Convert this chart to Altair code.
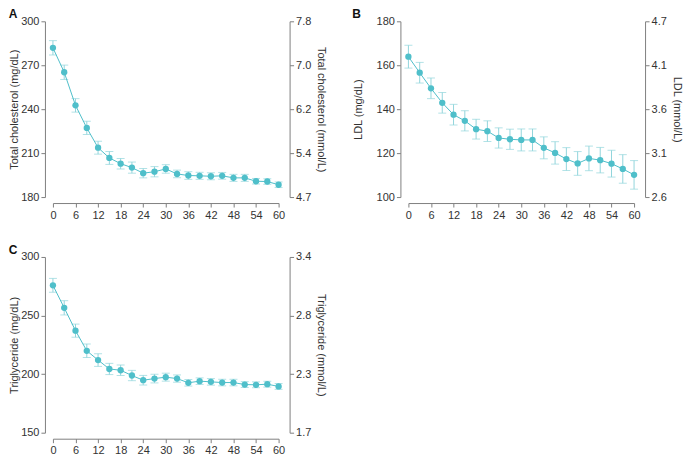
import altair as alt
import pandas as pd

months = [0, 3, 6, 9, 12, 15, 18, 21, 24, 27, 30, 33, 36, 39, 42, 45, 48, 51, 54, 57, 60]
x_ticks = [0, 6, 12, 18, 24, 30, 36, 42, 48, 54, 60]

tc_mean = [281.9, 265.2, 242.6, 227.2, 213.7, 206.7, 202.8, 200.1, 196.3, 197.3, 199.2,
           195.8, 194.7, 194.5, 194.2, 194.5, 193.1, 193.1, 190.8, 190.6, 188.4]
tc_err = [4.9, 4.9, 4.6, 4.5, 4.4, 4.4, 3.6, 3.8, 3.2, 3.5, 2.9,
          2.6, 2.6, 2.4, 2.4, 2.3, 2.4, 2.4, 1.9, 1.9, 1.9]
tc_left_ticks = [180, 210, 240, 270, 300]
tc_right_labels = ["4.7", "5.4", "6.2", "7.0", "7.8"]

ldl_mean = [163.9, 156.6, 149.5, 142.9, 137.5, 134.7, 130.9, 130.0, 126.9, 126.3, 126.0,
            126.0, 122.4, 120.1, 117.3, 115.3, 117.6, 116.8, 115.2, 112.8, 110.1]
ldl_err = [5.2, 4.7, 4.7, 4.7, 4.7, 4.6, 4.5, 4.7, 4.6, 4.6, 5.0,
           5.0, 5.0, 5.1, 5.2, 5.4, 5.6, 5.8, 6.1, 6.5, 6.5]
ldl_left_ticks = [100, 120, 140, 160, 180]
ldl_right_labels = ["2.6", "3.1", "3.6", "4.1", "4.7"]

tg_mean = [275.8, 256.6, 237.1, 219.9, 212.0, 204.4, 203.3, 198.8, 194.8, 196.2, 197.4,
           196.2, 192.6, 194.0, 193.4, 192.8, 192.8, 191.1, 190.9, 191.4, 189.5]
tg_err = [5.9, 6.1, 5.6, 5.8, 5.4, 4.8, 4.4, 4.4, 4.1, 3.7, 3.4,
          3.1, 2.8, 2.8, 2.8, 2.8, 2.8, 2.5, 2.5, 2.5, 2.5]
tg_left_ticks = [150, 200, 250, 300]
tg_right_labels = ["1.7", "2.3", "2.8", "3.4"]

FONT = "Liberation Sans"
MAIN = "#4fbfca"
ERR = "#92d5dc"
AXIS_C = "#808080"
W, H = 226, 176


def panel(letter, mean, err, ticks, rlabels, ltitle, rtitle, ltp=1):
    df = pd.DataFrame({
        "month": months,
        "value": mean,
        "lo": [m - e for m, e in zip(mean, err)],
        "hi": [m + e for m, e in zip(mean, err)],
    })
    dom = [ticks[0], ticks[-1]]
    yscale = alt.Scale(domain=dom, nice=False, zero=False)
    laxis = alt.Axis(values=ticks, title=ltitle, offset=8, grid=False, orient="left",
                     titlePadding=ltp)
    expr = " : ".join(f"datum.value == {v} ? '{l}'" for v, l in zip(ticks, rlabels)) + " : ''"
    raxis = alt.Axis(values=ticks, title=rtitle, offset=11, grid=False, orient="right",
                     labelExpr=expr, titlePadding=5)
    xenc = alt.X("month:Q", scale=alt.Scale(domain=[0, 60], nice=False),
                 axis=alt.Axis(values=x_ticks, offset=6, title=None, grid=False,
                               labelFlush=False))
    base = alt.Chart(df).encode(x=xenc)
    rule = base.mark_rule(color=ERR, strokeWidth=1).encode(
        y=alt.Y("lo:Q", scale=yscale, axis=laxis), y2="hi:Q")
    cap_lo = base.mark_tick(color=ERR, orient="horizontal", size=8, thickness=1).encode(
        y=alt.Y("lo:Q", scale=yscale, axis=laxis))
    cap_hi = base.mark_tick(color=ERR, orient="horizontal", size=8, thickness=1).encode(
        y=alt.Y("hi:Q", scale=yscale, axis=laxis))
    line = base.mark_line(color=MAIN, strokeWidth=1).encode(
        y=alt.Y("value:Q", scale=yscale, axis=laxis))
    pts = base.mark_point(filled=True, color=MAIN, size=40, opacity=1).encode(
        y=alt.Y("value:Q", scale=yscale, axis=laxis))
    left = alt.layer(rule, cap_lo, cap_hi, line, pts)
    right = base.mark_point(opacity=0).encode(
        y=alt.Y("value:Q", scale=yscale, axis=raxis))
    return alt.layer(left, right).resolve_scale(y="independent").properties(
        width=W, height=H,
        title=alt.TitleParams(letter, anchor="start", frame="bounds", fontSize=12,
                              fontWeight="bold", font=FONT, color="#111", offset=-6))


A = panel("A", tc_mean, tc_err, tc_left_ticks, tc_right_labels,
          "Total cholesterol (mg/dL)", "Total cholesterol (mmol/L)")
B = panel("B", ldl_mean, ldl_err, ldl_left_ticks, ldl_right_labels,
          "LDL (mg/dL)", "LDL (mmol/L)", ltp=13)
C = panel("C", tg_mean, tg_err, tg_left_ticks, tg_right_labels,
          "Triglyceride (mg/dL)", "Triglyceride (mmol/L)")

chart = alt.vconcat(alt.hconcat(A, B, spacing=24), C, spacing=24).properties(
    padding={"left": 0, "top": 0, "right": 0, "bottom": 0}
).configure_view(stroke=None).configure_axis(
    labelFont=FONT, labelFontSize=11, labelColor="#333",
    titleFont=FONT, titleFontSize=11, titleFontWeight="normal", titleColor="#333",
    domainColor=AXIS_C, tickColor=AXIS_C, tickSize=4, labelPadding=2,
)

chart.save("out.html", embed_options={"renderer": "svg", "actions": False})
